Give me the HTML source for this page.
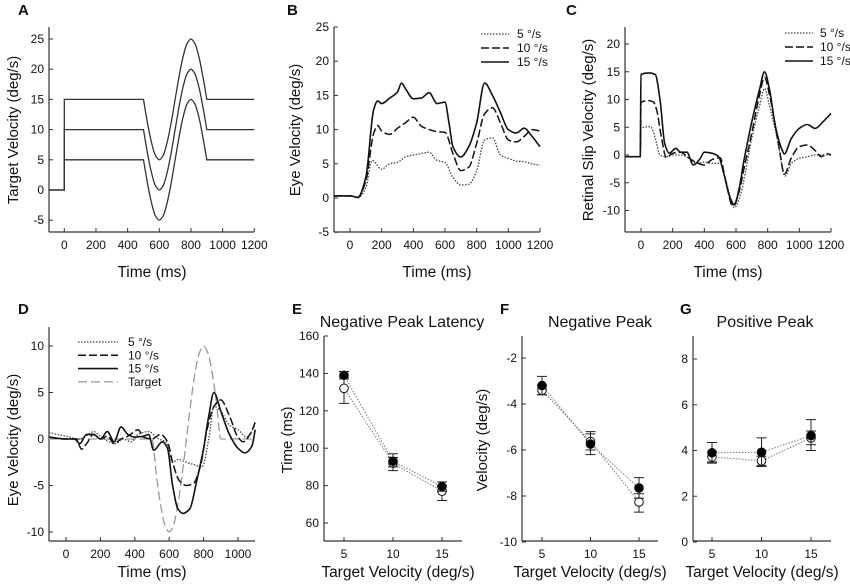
<!DOCTYPE html>
<html><head><meta charset="utf-8"><style>
html,body{margin:0;padding:0;background:#fff;}
svg{display:block;font-family:"Liberation Sans",Arial,sans-serif;}
</style></head><body>
<svg id="fig" width="850" height="586" viewBox="0 0 850 586" xmlns="http://www.w3.org/2000/svg"></svg>
<script>
// ---------- DATA ----------
const stimT = [500,525,550,575,600,625,650,675,700,725,750,775,800,825,850,875,900];
const stimMod = [0,-3.83,-7.07,-9.24,-10,-9.24,-7.07,-3.83,0,3.83,7.07,9.24,10,9.24,7.07,3.83,0];
const targetBases = [5,10,15];

const bT15 = [-100,-50,0,50,100,150,175,200,250,300,325,350,400,450,500,550,600,625,650,700,750,800,850,900,950,1000,1050,1100,1150,1200];
const bV15 = [0.3,0.3,0.3,0.1,3,13,14.2,13.8,14.6,15.5,16.8,16,14.5,14.6,15.4,13.8,14,11,7.5,6,7.5,11,16.8,15,12.5,10,9.5,10.2,9,7.5];
const bT10 = [-100,0,50,100,150,175,200,250,300,350,400,450,500,550,600,650,700,750,800,850,900,950,1000,1050,1100,1150,1200];
const bV10 = [0.3,0.3,0.1,2.5,9.5,10.6,9.8,9.3,10.2,11,11.8,10.5,10,9.7,9.6,6.5,4,4.5,8,12.3,13.2,11,8.5,8.2,9,10,9.8];
const bT5 = [-100,0,50,100,140,200,250,300,350,400,450,500,550,600,650,700,750,800,850,900,950,1000,1050,1100,1150,1200];
const bV5 = [0.3,0.3,0,1.5,5.5,4.2,5,5.2,6,6.3,6.5,6.7,5.5,5.2,3,1.9,2,4,8.5,8.8,6.3,5.8,5.4,5.3,5,4.8];

const cT15 = [-100,-5,0,50,90,120,150,180,200,220,250,290,330,370,400,450,490,520,560,590,620,650,700,750,780,810,850,890,905,950,1000,1050,1100,1150,1200];
const cV15 = [-0.3,-0.3,14.5,14.8,14.5,10,2,0.3,0.8,1.2,0.5,0.5,-1.8,-0.8,0.5,0.3,-0.3,-3,-7.5,-9,-6,-1,6,12,15,12,5,1,0.2,3,4.8,5.5,4.8,6,7.5];
const cT10 = [-100,-5,0,50,80,100,130,160,200,250,300,340,400,450,500,530,580,620,650,700,750,780,810,850,880,905,950,1000,1050,1100,1140,1170,1200];
const cV10 = [-0.3,-0.3,9.5,9.8,9.5,8,3,-0.5,0.3,0.5,-0.5,-1.2,-1.8,-0.8,-0.5,-4,-9.2,-6.5,-2.5,4,11,14,11,5,0,-3.5,-0.5,1.5,1.8,0.8,-0.3,0.3,0];
const cT5 = [-100,-5,0,60,90,120,150,200,250,300,350,400,450,500,540,590,630,660,700,750,780,810,860,910,950,1000,1050,1100,1150,1200];
const cV5 = [-0.3,-0.3,4.8,5.1,3,0,-0.3,0,0,-0.5,-1.5,-1.3,-1.5,-1.5,-5,-9.5,-7,-3,3,9,12,9,3,-3.8,-1.5,-0.6,-0.3,0,0,0];

const dT15 = [-100,0,50,80,120,160,200,240,280,320,360,400,450,480,510,560,590,620,650,680,720,760,800,830,860,900,950,1000,1040,1080,1100];
const dV15 = [0.2,0,0,-0.5,0.5,0.5,0,0.8,-0.3,1.3,0.5,0.2,0.3,0.5,-1.2,-0.3,-1,-5,-7.5,-8,-7.5,-4.5,-1,2.5,5,3,0.5,-1,-1.5,-0.8,1];
const dT10 = [-100,0,60,90,120,160,200,240,280,320,360,420,450,500,550,590,620,660,700,740,780,820,860,900,950,1000,1030,1070,1100];
const dV10 = [0.2,0,0,-1.1,-0.5,0.5,0,0.3,-0.5,0,0.3,1,0.2,0,0.5,-0.3,-2.5,-4.5,-5,-4.8,-3,1,3.5,4.2,2.5,0.2,-0.3,0.5,1.8];
const dT5 = [-100,0,80,130,160,200,250,290,330,380,420,480,540,580,620,650,700,750,790,830,860,900,950,1000,1050,1100];
const dV5 = [0.7,0.3,0,0.5,0.8,0.3,-0.3,-0.5,0,-0.3,0.5,0.8,0,-0.3,-2.5,-2.2,-2.5,-2.8,-3,0,3.5,3,1.5,1,0.2,1.5];

const velCats = [5,10,15];
const eFilled = [139,93,79.5], eFilledLo=[137,90,77], eFilledHi=[141,97,82];
const eOpen = [132,92,77], eOpenLo=[124,88,72], eOpenHi=[138,95,80];
const fFilled = [-3.2,-5.74,-7.65], fFilledLo=[-3.6,-6.2,-8.1], fFilledHi=[-2.8,-5.2,-7.2];
const fOpen = [-3.4,-5.63,-8.26], fOpenLo=[-3.6,-6.0,-8.7], fOpenHi=[-3.2,-5.3,-7.9];
const gFilled = [3.9,3.92,4.65], gFilledLo=[3.45,3.3,4.0], gFilledHi=[4.35,4.55,5.35];
const gOpen = [3.72,3.55,4.55], gOpenLo=[3.5,3.35,4.25], gOpenHi=[3.95,3.75,4.85];

// ---------- helpers ----------
const NS="http://www.w3.org/2000/svg";
const svg=document.getElementById('fig');
const AX="#333";
const TICK=12, TITLE=15;
function el(tag,attrs,parent){const e=document.createElementNS(NS,tag);for(const k in attrs)e.setAttribute(k,attrs[k]);(parent||svg).appendChild(e);return e;}
function txt(s,x,y,size,anchor,parent,extra){const t=el('text',Object.assign({x:x,y:y,'font-size':size,'text-anchor':anchor||'middle',fill:'#111'},extra||{}),parent);t.textContent=s;return t;}
function scale(d0,d1,r0,r1){return v=>r0+(v-d0)*(r1-r0)/(d1-d0);}
// monotone cubic (Fritsch-Carlson) in x, no overshoot
function smoothPath(pts){
  const n=pts.length; if(n<2)return'';
  const dx=[],s=[],m=[];
  for(let i=0;i<n-1;i++){dx[i]=pts[i+1][0]-pts[i][0];s[i]=dx[i]===0?0:(pts[i+1][1]-pts[i][1])/dx[i];}
  m[0]=s[0];m[n-1]=s[n-2];
  for(let i=1;i<n-1;i++){ if(s[i-1]*s[i]<=0)m[i]=0; else {const w1=2*dx[i]+dx[i-1],w2=dx[i]+2*dx[i-1]; m[i]=(w1+w2)/(w1/s[i-1]+w2/s[i]);} }
  let d='M'+pts[0][0].toFixed(1)+','+pts[0][1].toFixed(1);
  for(let i=0;i<n-1;i++){
    const h=dx[i]/3, p1=pts[i], p2=pts[i+1];
    d+='C'+(p1[0]+h).toFixed(1)+','+(p1[1]+m[i]*h).toFixed(1)+' '+(p2[0]-h).toFixed(1)+','+(p2[1]-m[i+1]*h).toFixed(1)+' '+p2[0].toFixed(1)+','+p2[1].toFixed(1);
  }
  return d;
}
function axes(g,o){
  el('line',{x1:o.x0,y1:o.yTop,x2:o.x0,y2:o.yBot,stroke:AX,'stroke-width':1.2},g);
  el('line',{x1:o.x0,y1:o.yBot,x2:o.xEnd,y2:o.yBot,stroke:AX,'stroke-width':1.2},g);
  o.yt.forEach(v=>{const y=o.sy(v);el('line',{x1:o.x0,y1:y,x2:o.x0+4,y2:y,stroke:AX},g);txt(String(v),o.x0-5,y+4,TICK,'end',g);});
  o.xt.forEach((v,i)=>{const x=o.sx(v);el('line',{x1:x,y1:o.yBot,x2:x,y2:o.yBot-4,stroke:AX},g);txt(String(v),x,o.yBot+17,TICK,'middle',g);});
}
const styles={
  s15:{stroke:'#111','stroke-width':1.6,fill:'none'},
  s10:{stroke:'#111','stroke-width':1.5,fill:'none','stroke-dasharray':'8,3'},
  s5:{stroke:'#444','stroke-width':1.3,fill:'none','stroke-dasharray':'1.5,1.5'},
  tgt:{stroke:'#999','stroke-width':1.3,fill:'none','stroke-dasharray':'9,4'}
};
function trace(g,T,V,sx,sy,st,name,smooth){
  const pts=T.map((t,i)=>[sx(t),sy(V[i])]);
  const d=smooth?smoothPath(pts):'M'+pts.map(p=>p[0].toFixed(1)+','+p[1].toFixed(1)).join('L');
  const p=el('path',Object.assign({d:d},st),g);
  
  
  return p;
}
function legend(g,items,x1,x2,tx,y0,dy){
  items.forEach((it,i)=>{
    const y=y0+i*dy;
    const lg=el('g',{},g);
    
    
    el('line',Object.assign({x1:x1,y1:y,x2:x2,y2:y},it[1]),lg);
    txt(it[0],tx,y+4,TICK,'start',lg);
  });
}
function panelLetter(s,x,y){const t=txt(s,x,y,15,'start',svg,{'font-weight':'bold'});}
function ytitle(g,s,x,y){txt(s,0,0,TITLE,'middle',g,{transform:'translate('+x+','+y+') rotate(-90)'});}
function xtitle(g,s,x,y){txt(s,x,y,TITLE+0.5,'middle',g);}
function group(name){const g=el('g',{});return g;}

// ---------- Panel A ----------
(function(){
  const g=group('panel-a-target-velocity');
  const sx=scale(0,1200,64.3,254.3), sy=scale(0,25,190,39);
  axes(g,{x0:49,xEnd:254,yTop:27,yBot:232,sx,sy,yt:[-5,0,5,10,15,20,25],xt:[0,200,400,600,800,1000,1200]});
  targetBases.forEach(b=>{
    const T=[-100,0,0].concat(stimT).concat([1200]);
    const V=[0,0,b].concat(stimMod.map(m=>b+m)).concat([b]);
    const pts=T.map((t,i)=>[sx(t),sy(V[i])]);
    const mid=pts.slice(3,3+stimT.length);
    let d='M'+pts[0][0]+','+pts[0][1]+'L'+pts[1][0]+','+pts[1][1]+'L'+pts[2][0]+','+pts[2][1];
    d+='L'+mid[0][0]+','+mid[0][1]+smoothPath(mid).replace(/^M[^C]*/,'');
    d+='L'+pts[pts.length-1][0]+','+pts[pts.length-1][1];
    const p=el('path',{d:d,stroke:'#333','stroke-width':1.3,fill:'none'},g);
    
    
  });
  ytitle(g,'Target Velocity (deg/s)',18,130);
  xtitle(g,'Time (ms)',152,277);
})();
panelLetter('A',18,15);

// ---------- Panel B ----------
(function(){
  const g=group('panel-b-eye-velocity');
  const sx=scale(0,1200,350,540), sy=scale(0,25,198,27);
  axes(g,{x0:334,xEnd:540,yTop:27,yBot:232,sx,sy,yt:[-5,0,5,10,15,20,25],xt:[0,200,400,600,800,1000,1200]});
  trace(g,bT5,bV5,sx,sy,styles.s5,'trace-5',true);
  trace(g,bT10,bV10,sx,sy,styles.s10,'trace-10',true);
  trace(g,bT15,bV15,sx,sy,styles.s15,'trace-15',true);
  legend(g,[['5 °/s',styles.s5,'5'],['10 °/s',styles.s10,'10'],['15 °/s',styles.s15,'15']],481,509,517,34,14);
  ytitle(g,'Eye Velocity (deg/s)',300,130);
  xtitle(g,'Time (ms)',437,277);
})();
panelLetter('B',287,15);

// ---------- Panel C ----------
(function(){
  const g=group('panel-c-retinal-slip');
  const sx=scale(0,1200,641,831), sy=scale(0,20,155,44);
  axes(g,{x0:625,xEnd:831,yTop:27,yBot:232,sx,sy,yt:[-10,-5,0,5,10,15,20],xt:[0,200,400,600,800,1000,1200]});
  trace(g,cT5,cV5,sx,sy,styles.s5,'trace-5',true);
  trace(g,cT10,cV10,sx,sy,styles.s10,'trace-10',true);
  trace(g,cT15,cV15,sx,sy,styles.s15,'trace-15',true);
  legend(g,[['5 °/s',styles.s5,'5'],['10 °/s',styles.s10,'10'],['15 °/s',styles.s15,'15']],785,813,820,33,14);
  ytitle(g,'Retinal Slip Velocity (deg/s)',593,130);
  xtitle(g,'Time (ms)',728,277);
})();
panelLetter('C',566,15);

// ---------- Panel D ----------
(function(){
  const g=group('panel-d-eye-velocity-modulation');
  const sx=scale(0,1000,66,238), sy=scale(0,10,439,346);
  axes(g,{x0:49,xEnd:255,yTop:327,yBot:541,sx,sy,yt:[-10,-5,0,5,10],xt:[0,200,400,600,800,1000]});
  const tT=[-100].concat(stimT).concat([1100]);
  const tV=[0].concat(stimMod).concat([0]);
  trace(g,tT,tV,sx,sy,styles.tgt,'target-trace',true);
  trace(g,dT5,dV5,sx,sy,styles.s5,'trace-5',true);
  trace(g,dT10,dV10,sx,sy,styles.s10,'trace-10',true);
  trace(g,dT15,dV15,sx,sy,styles.s15,'trace-15',true);
  legend(g,[['5 °/s',styles.s5,'5'],['10 °/s',styles.s10,'10'],['15 °/s',styles.s15,'15'],['Target',styles.tgt,'target']],78,118,128,342,13.3);
  ytitle(g,'Eye Velocity (deg/s)',18,440);
  xtitle(g,'Time (ms)',152,577);
})();
panelLetter('D',18,314);

// ---------- Summary panels ----------
function summary(name,o){
  const g=group(name);
  const sx=scale(5,15,o.x5,o.x15), sy=scale(o.yA,o.yB,o.pA,o.pB);
  axes(g,{x0:o.x0,xEnd:o.xEnd,yTop:336,yBot:541,sx,sy,yt:o.yt,xt:velCats});
  [[o.open,'open'],[o.fill,'filled']].forEach(s=>{
    const p=el('path',{d:'M'+velCats.map((c,i)=>sx(c).toFixed(1)+','+sy(s[0][i]).toFixed(1)).join('L'),stroke:'#777','stroke-width':1,fill:'none','stroke-dasharray':'1.5,1.5'},g);
    
    
  });
  [[o.open,o.openLo,o.openHi,'open','#fff'],[o.fill,o.fillLo,o.fillHi,'filled','#000']].forEach(s=>{
    velCats.forEach((c,i)=>{
      const x=sx(c);
      const eb=el('path',{d:'M'+x+','+sy(s[1][i])+'V'+sy(s[2][i])+'M'+(x-5)+','+sy(s[1][i])+'H'+(x+5)+'M'+(x-5)+','+sy(s[2][i])+'H'+(x+5),stroke:'#222','stroke-width':1,fill:'none'},g);
      
      
      const m=el('circle',{cx:x,cy:sy(s[0][i]),r:4.3,fill:s[4],stroke:'#111','stroke-width':1},g);
      
      
    });
  });
  txt(o.title,o.tx,327,16,'middle',g);
  if(o.ytitle)ytitle(g,o.ytitle,o.ytx,440);
  xtitle(g,'Target Velocity (deg/s)',o.xtx,577);
}
summary('panel-e-negative-peak-latency',{x0:324,xEnd:462,x5:344,x15:442,yA:60,yB:160,pA:523,pB:336,yt:[60,80,100,120,140,160],
  fill:eFilled,fillLo:eFilledLo,fillHi:eFilledHi,open:eOpen,openLo:eOpenLo,openHi:eOpenHi,title:'Negative Peak Latency',tx:402,ytitle:'Time (ms)',ytx:292,xtx:398});
summary('panel-f-negative-peak',{x0:522,xEnd:658,x5:542,x15:639,yA:-10,yB:-2,pA:542,pB:358,yt:[-10,-8,-6,-4,-2],
  fill:fFilled,fillLo:fFilledLo,fillHi:fFilledHi,open:fOpen,openLo:fOpenLo,openHi:fOpenHi,title:'Negative Peak',tx:600,ytitle:'Velocity (deg/s)',ytx:487,xtx:590});
summary('panel-g-positive-peak',{x0:693,xEnd:831,x5:712,x15:811,yA:0,yB:8,pA:542,pB:359,yt:[0,2,4,6,8],
  fill:gFilled,fillLo:gFilledLo,fillHi:gFilledHi,open:gOpen,openLo:gOpenLo,openHi:gOpenHi,title:'Positive Peak',tx:765,xtx:762});
panelLetter('E',292,314);
panelLetter('F',500,314);
panelLetter('G',680,314);
</script>
</body></html>
